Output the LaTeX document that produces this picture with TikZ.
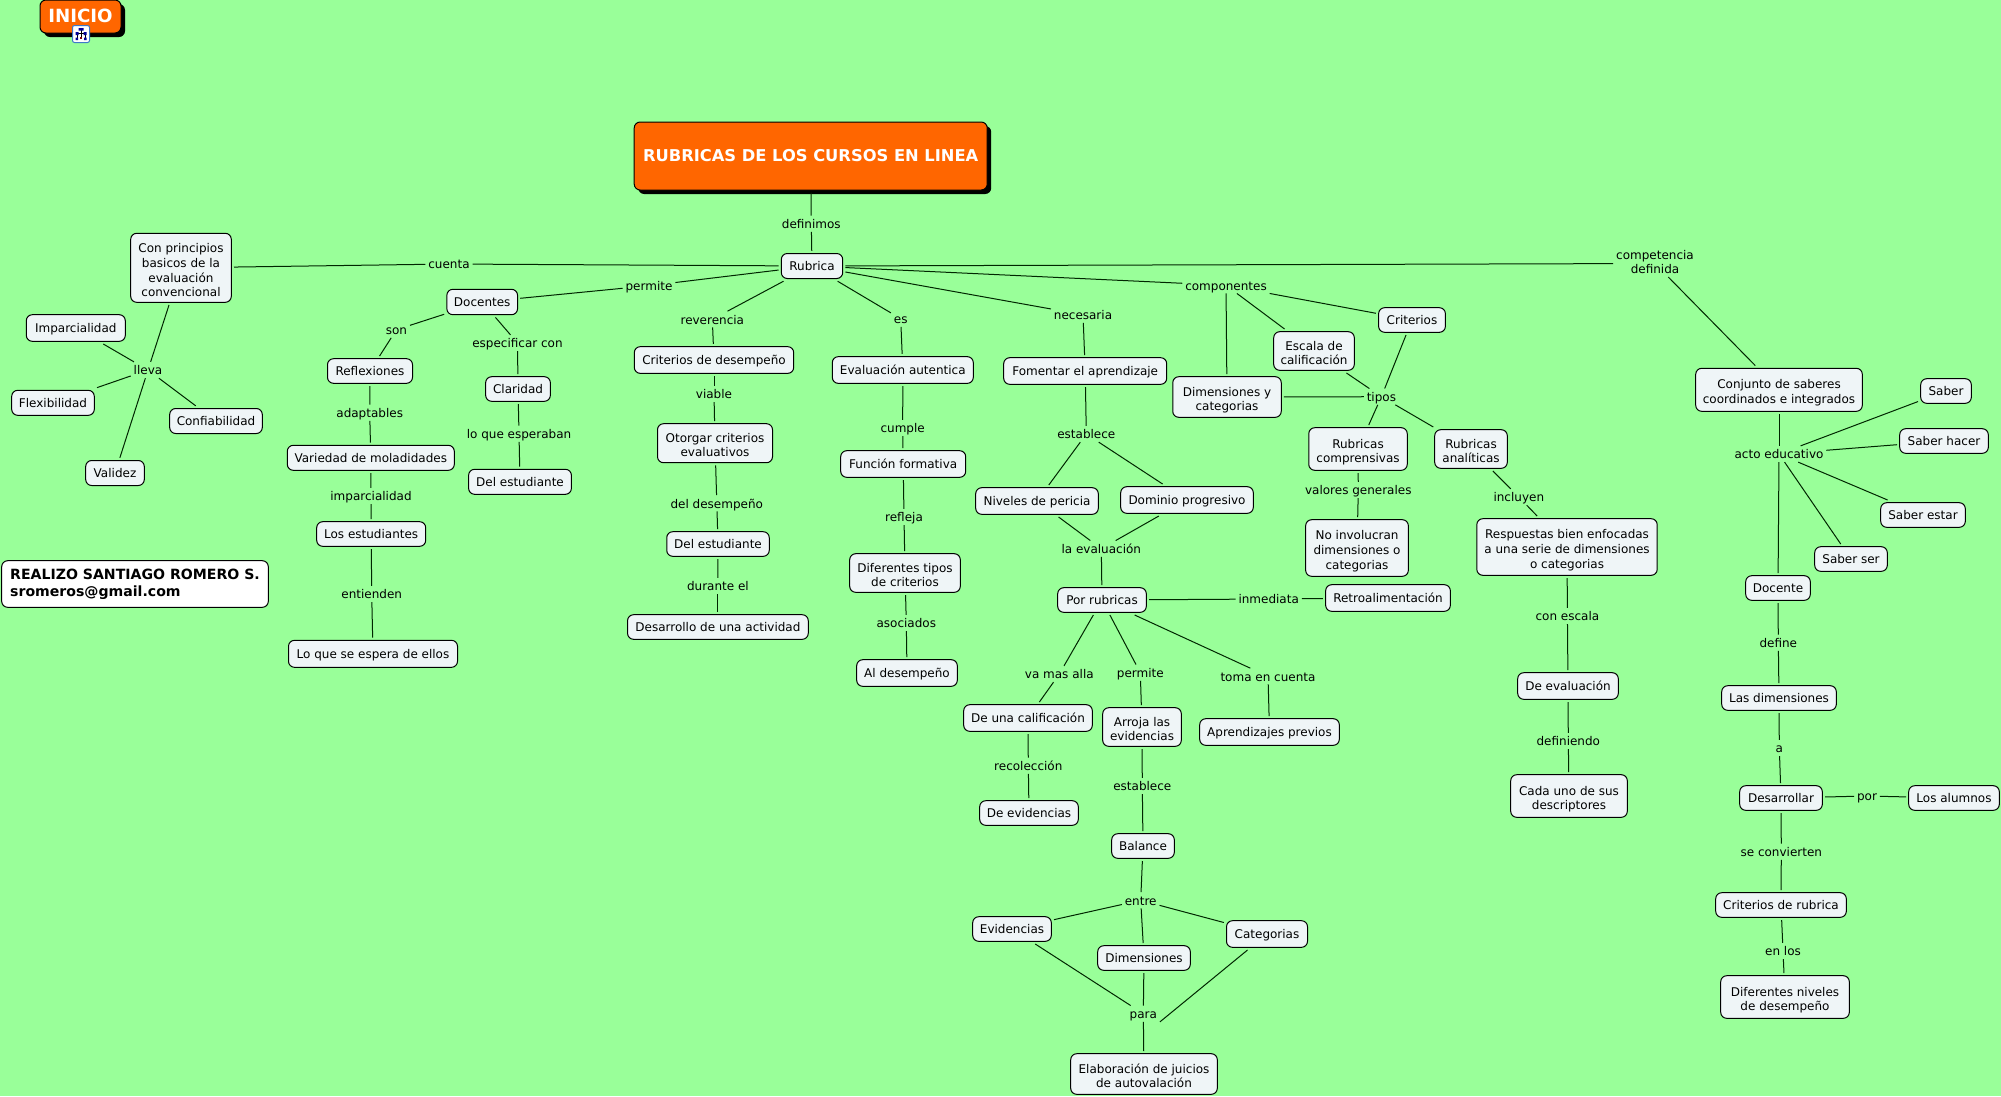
\documentclass[tikz,border=0pt]{standalone}
\usepackage{fontspec}
\setmainfont{DejaVu Sans}
\usetikzlibrary{shadows}
\definecolor{bgc}{HTML}{99FF99}
\definecolor{boxc}{HTML}{EFF5F7}
\definecolor{orangec}{HTML}{FF6600}
\definecolor{iconb}{HTML}{3F79C9}
\newcommand\topstrut{\rule{0pt}{13.1pt}}
\newcommand\botstrut{\rule[-3.2pt]{0pt}{3.2pt}}
\newcommand\mtop{\rule{0pt}{16pt}}
\newcommand\mtopb{\rule{0pt}{17pt}}
\tikzset{
  txt/.style={font=\fontsize{12}{14.67}\selectfont,align=center,execute at begin node={\topstrut},execute at end node={\botstrut}},
  cptbox/.style={txt,draw=black,fill=boxc,rounded corners=6pt,line width=1pt,inner sep=0pt,outer sep=2.7pt},
  linkl/.style={txt,inner xsep=3pt,inner ysep=0pt,outer sep=0pt},
  conn/.style={draw=black!85!green,line width=1pt},
  bigbox/.style={draw=black,fill=orangec,text=white,rounded corners=6pt,line width=1pt,inner sep=0pt,outer sep=2.7pt,
    general shadow={fill=black,shadow xshift=4pt,shadow yshift=-4pt}},
}
\newcommand\cpt[6]{\node[cptbox,minimum width=#4pt,minimum height=#5pt] (#1) at (#2,#3) {#6};}
\newcommand\lbl[4]{\node[linkl] (#1) at (#2,#3) {#4};}
\begin{document}
\begin{tikzpicture}[x=1pt,y=-1pt]
\path[use as bounding box,fill=bgc] (0,0) rectangle (2001,1096);
% big boxes
\node[bigbox,minimum width=81pt,minimum height=33pt,font=\fontsize{18.2}{20}\selectfont\bfseries] (inicio) at (80.5,16.5) {\raisebox{1.2pt}{INICIO}};
\node[bigbox,minimum width=353pt,minimum height=68pt,font=\fontsize{16.3}{20}\selectfont\bfseries] (title) at (810.7,156) {\raisebox{-.6pt}{RUBRICAS DE LOS CURSOS EN LINEA}};
% note box
\node[draw=black,fill=white,rounded corners=6pt,line width=1pt,minimum width=266.6pt,minimum height=46.6pt,inner sep=0pt,
  align=left,font=\fontsize{14.1}{17.3}\selectfont\bfseries] (autor) at (135,584) {REALIZO SANTIAGO ROMERO S.\\sromeros@gmail.com};
% icon
\draw[iconb,fill=white,rounded corners=2pt,line width=1pt] (72.5,25.5) rectangle (89.5,42.5);
\draw[black,line width=.6pt] (81,30) -- (81,38) (77,33) -- (85,33) (77,33) -- (77,38) (85,33) -- (85,38);
\fill[blue!60!black] (78.5,28) rectangle (83.5,30.5) (75.5,32) rectangle (78.5,35) (83.5,32) rectangle (86.5,35) (75.5,37.5) rectangle (78,40) (84,37.5) rectangle (86.5,40);
\fill[red!50!black] (79.8,36.5) rectangle (82.2,39);
% concepts
\cpt{rubrica}{812}{266}{61.4}{25}{Rubrica}
\cpt{conprin}{181}{267.8}{100.6}{69}{\mtopb Con principios\\basicos de la\\ evaluación\\ convencional}
\cpt{impar}{75.8}{328}{99}{26.6}{Imparcialidad}
\cpt{flex}{53}{402.8}{82.6}{25}{Flexibilidad}
\cpt{conf}{216}{421}{92.6}{25}{Confiabilidad}
\cpt{valid}{115}{473}{58.6}{25}{Validez}
\cpt{docentes}{482.2}{302}{70.7}{25.4}{Docentes}
\cpt{reflex}{370}{371}{85}{24.6}{Reflexiones}
\cpt{varied}{370.8}{457.8}{167}{25}{Variedad de moladidades}
\cpt{losest}{371.2}{534}{109}{24.6}{Los estudiantes}
\cpt{loque}{373}{653.8}{169}{27}{Lo que se espera de ellos}
\cpt{clarid}{518}{389}{64.7}{24.6}{Claridad}
\cpt{delest}{520}{481.8}{102.8}{25}{Del estudiante}
\cpt{critdes}{714}{360}{159.4}{26.7}{Criterios de desempeño}
\cpt{otorgar}{715}{443.2}{115}{39}{\mtop Otorgar criterios\\evaluativos}
\cpt{delestb}{718}{544}{102.5}{24.6}{Del estudiante}
\cpt{desarr}{717.9}{627}{180.7}{24.6}{Desarrollo de una actividad}
\cpt{evalaut}{902.8}{370}{141}{26.7}{Evaluación autentica}
\cpt{funcion}{903.2}{464}{125}{26.6}{Función formativa}
\cpt{diftip}{905}{573}{110.6}{38.6}{\mtop Diferentes tipos\\de criterios}
\cpt{aldes}{907}{673}{100.6}{26.6}{Al desempeño}
\cpt{fomentar}{1085.2}{371}{163}{26.6}{Fomentar el aprendizaje}
\cpt{niveles}{1037}{501}{122.6}{26.6}{Niveles de pericia}
\cpt{dominio}{1187}{500}{132.6}{26.6}{Dominio progresivo}
\cpt{porrub}{1102}{600}{88.6}{24.6}{Por rubricas}
\cpt{deuna}{1028}{718}{128.6}{26.6}{De una calificación}
\cpt{arroja}{1142}{727}{78.6}{38.6}{\mtop Arroja las\\evidencias}
\cpt{aprend}{1269.5}{732}{139.6}{26.6}{Aprendizajes previos}
\cpt{deevid}{1029}{813}{98.6}{24.6}{De evidencias}
\cpt{balance}{1143}{846}{62.6}{24.6}{Balance}
\cpt{evid}{1012}{929}{78.6}{24.6}{Evidencias}
\cpt{dimen}{1144}{958}{92.6}{24.6}{Dimensiones}
\cpt{categ}{1267}{934}{81}{26.6}{Categorias}
\cpt{elabor}{1144}{1074}{146.6}{40.6}{\mtop Elaboración de juicios\\de autovalación}
\cpt{criter}{1412}{320}{66.8}{24.6}{Criterios}
\cpt{escala}{1314}{351}{80.6}{38.6}{\mtop Escala de\\calificación}
\cpt{dimcat}{1227}{397}{108.5}{40.6}{\mtop Dimensiones y\\categorias}
\cpt{rubcomp}{1358}{449}{98.5}{42.6}{\mtop Rubricas\\comprensivas}
\cpt{rubanal}{1471}{449}{72.6}{38.6}{\mtop Rubricas\\analíticas}
\cpt{noinv}{1357}{548}{102.7}{56.6}{\mtop No involucran\\dimensiones o\\categorias}
\cpt{respu}{1567}{547}{180.4}{56.6}{\mtop Respuestas bien enfocadas\\a una serie de dimensiones\\o categorias}
\cpt{retro}{1388}{598}{124.7}{26.6}{Retroalimentación}
\cpt{deeval}{1568}{686}{100.6}{26.6}{De evaluación}
\cpt{cadauno}{1569}{796}{116.6}{42.6}{\mtop Cada uno de sus\\descriptores}
\cpt{conjunto}{1779}{389.8}{166.6}{43}{\mtop Conjunto de saberes\\coordinados e integrados}
\cpt{saber}{1946}{391}{50.6}{24.6}{Saber}
\cpt{saberh}{1944}{441}{88.6}{24.6}{Saber hacer}
\cpt{sabere}{1923}{515}{84.6}{24.6}{Saber estar}
\cpt{sabers}{1851}{559}{72.6}{24.6}{Saber ser}
\cpt{docente}{1778}{588}{64.6}{24.6}{Docente}
\cpt{lasdim}{1779}{698}{114.6}{24.6}{Las dimensiones}
\cpt{desarrol}{1781}{798}{82.6}{24.6}{Desarrollar}
\cpt{alumnos}{1954}{798}{90.6}{24.6}{Los alumnos}
\cpt{critrub}{1781}{905}{130.6}{24.6}{Criterios de rubrica}
\cpt{difniv}{1785}{997}{128.6}{42.6}{\mtop Diferentes niveles\\de desempeño}
% link labels
\lbl{ldef}{811.3}{223.7}{definimos}
\lbl{lcuenta}{449}{264}{cuenta}
\lbl{lperm}{649}{285.7}{permite}
\lbl{lrev}{712.3}{319.3}{reverencia}
\lbl{les}{900.7}{318.7}{es}
\lbl{lnec}{1083}{314.7}{necesaria}
\lbl{lcomp}{1226}{285.3}{componentes}
\lbl{lcompet}{1655}{263.5}{competencia\\definida}
\lbl{llleva}{148}{370}{lleva}
\lbl{lson}{396.4}{329.7}{son}
\lbl{lespec}{517.5}{343}{especificar con}
\lbl{ladapt}{369.7}{412.7}{adaptables}
\lbl{limpar}{371}{496}{imparcialidad}
\lbl{lentien}{371.7}{594}{entienden}
\lbl{lloque}{519}{433.7}{lo que esperaban}
\lbl{lviable}{714}{394}{viable}
\lbl{ldeldes}{716.8}{503.3}{del desempeño}
\lbl{ldurante}{717.9}{586}{durante el}
\lbl{lcumple}{902.7}{428}{cumple}
\lbl{lrefleja}{904}{517}{refleja}
\lbl{lasoc}{906.3}{623}{asociados}
\lbl{lestab}{1086.3}{434}{establece}
\lbl{lleval}{1101.3}{548.7}{la evaluación}
\lbl{linmed}{1268.7}{599}{inmediata}
\lbl{lvamas}{1059.3}{674}{va mas alla}
\lbl{lpermb}{1140.3}{672.7}{permite}
\lbl{ltoma}{1268}{676.3}{toma en cuenta}
\lbl{lrecol}{1028.3}{765.7}{recolección}
\lbl{lestabb}{1142.3}{786}{establece}
\lbl{lentre}{1140.7}{900.3}{entre}
\lbl{lpara}{1143.3}{1013.7}{para}
\lbl{ltipos}{1381.4}{396.7}{tipos}
\lbl{lvalor}{1358.3}{490}{valores generales}
\lbl{linclu}{1518.8}{497}{incluyen}
\lbl{lconesc}{1567.4}{616}{con escala}
\lbl{ldefin}{1568.3}{741}{definiendo}
\lbl{lacto}{1779}{454}{acto educativo}
\lbl{ldefine}{1778.3}{642.7}{define}
\lbl{la}{1779.3}{748}{a}
\lbl{lpor}{1867}{796}{por}
\lbl{lsecon}{1781.3}{851.7}{se convierten}
\lbl{lenlos}{1783}{951}{en los}
% connectors
\foreach \a/\b in {title/ldef,ldef/rubrica,rubrica/lcuenta,lcuenta/conprin,rubrica/lperm,lperm/docentes,
 rubrica/lrev,lrev/critdes,rubrica/les,les/evalaut,rubrica/lnec,lnec/fomentar,rubrica/lcomp,
 lcomp/criter,lcomp/escala,lcomp/dimcat,rubrica/lcompet,lcompet/conjunto,
 conprin/llleva,llleva/impar,llleva/flex,llleva/conf,llleva/valid,
 docentes/lson,lson/reflex,reflex/ladapt,ladapt/varied,varied/limpar,limpar/losest,losest/lentien,lentien/loque,
 docentes/lespec,lespec/clarid,clarid/lloque,lloque/delest,
 critdes/lviable,lviable/otorgar,otorgar/ldeldes,ldeldes/delestb,delestb/ldurante,ldurante/desarr,
 evalaut/lcumple,lcumple/funcion,funcion/lrefleja,lrefleja/diftip,diftip/lasoc,lasoc/aldes,
 fomentar/lestab,lestab/niveles,lestab/dominio,niveles/lleval,dominio/lleval,lleval/porrub,
 porrub/linmed,linmed/retro,porrub/lvamas,lvamas/deuna,deuna/lrecol,lrecol/deevid,
 porrub/lpermb,lpermb/arroja,arroja/lestabb,lestabb/balance,balance/lentre,lentre/evid,lentre/dimen,lentre/categ,
 evid/lpara,dimen/lpara,categ/lpara.south east,lpara/elabor,porrub/ltoma,ltoma/aprend,
 criter/ltipos,escala/ltipos,dimcat/ltipos,ltipos/rubcomp,ltipos/rubanal,
 rubcomp/lvalor,lvalor/noinv,rubanal/linclu,linclu/respu,respu/lconesc,lconesc/deeval,deeval/ldefin,ldefin/cadauno,
 conjunto/lacto,lacto/saber,lacto/saberh,lacto/sabere,lacto/sabers,lacto/docente,
 docente/ldefine,ldefine/lasdim,lasdim/la,la/desarrol,desarrol/lpor,lpor/alumnos,desarrol/lsecon,lsecon/critrub,critrub/lenlos,lenlos/difniv}
 {\draw[conn] (\a) -- (\b);}
\end{tikzpicture}
\end{document}
